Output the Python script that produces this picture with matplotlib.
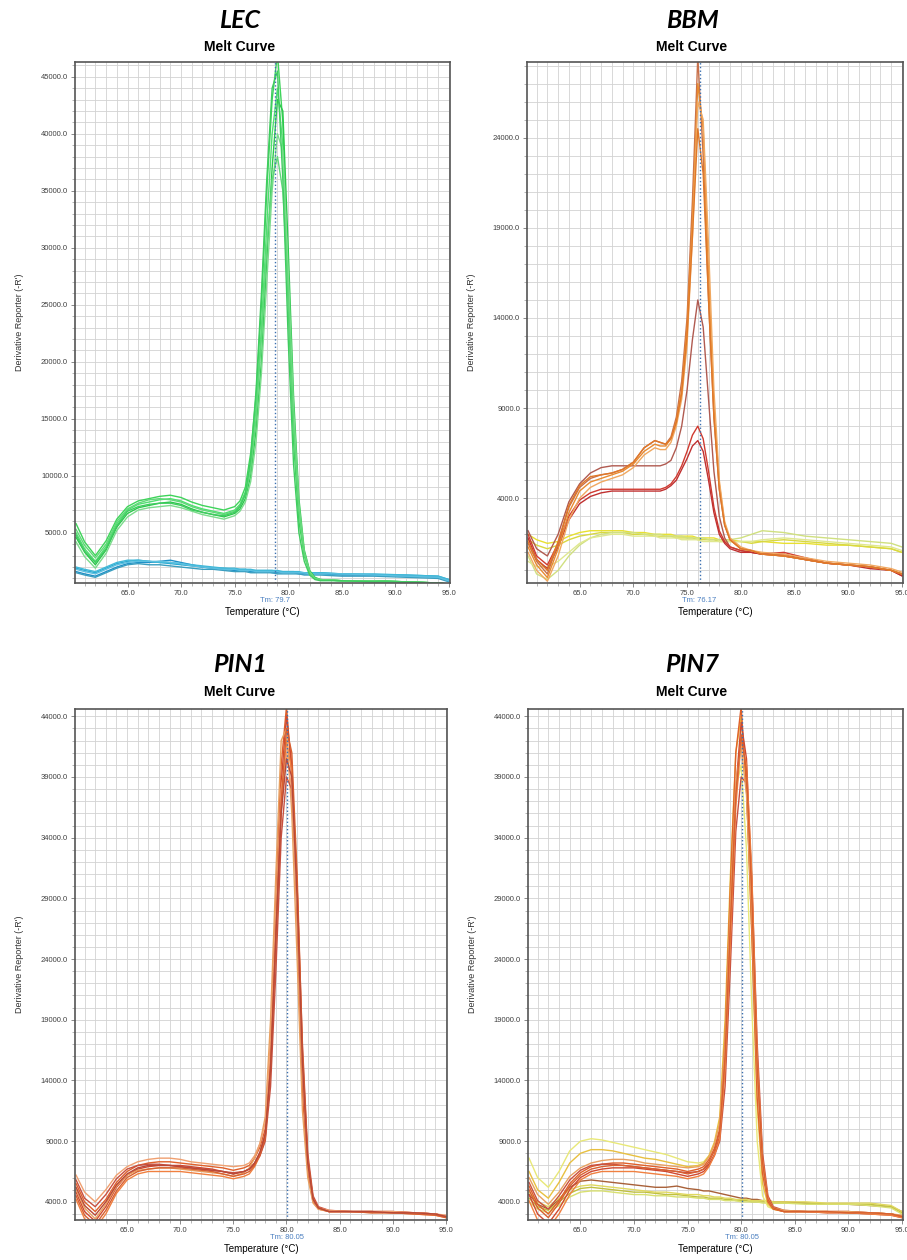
import matplotlib
matplotlib.use("Agg")
import matplotlib.pyplot as plt
from matplotlib.ticker import MultipleLocator, FormatStrFormatter

# values, derivative reporter in thousands

# ---- LEC ----
T_LEC = [60.2, 61, 62, 63, 64, 65, 66, 67, 68, 69, 70, 71, 72, 73, 74, 75, 75.5, 76, 76.5, 77,
         77.5, 78, 78.5, 79, 79.5, 80, 80.5, 81, 81.5, 82, 82.5, 83, 85, 88, 91, 94, 95]
LEC_GREEN = [
    [5.8, 4.2, 3.0, 4.3, 6.2, 7.3, 7.8, 8.0, 8.2, 8.3, 8.1, 7.7, 7.4, 7.2, 7.0, 7.3, 7.8, 9.0, 12.0, 17.0,
     25.0, 35.0, 43.0, 47.0, 41.0, 25.0, 13.0, 6.0, 3.0, 1.5, 1.0, 0.9, 0.8, 0.8, 0.7, 0.6, 0.5],
    [5.0, 3.6, 2.5, 3.8, 5.8, 7.0, 7.5, 7.7, 7.9, 8.0, 7.8, 7.4, 7.1, 6.9, 6.7, 7.0, 7.5, 8.6, 11.0, 16.0,
     23.0, 32.0, 40.0, 44.0, 39.0, 27.0, 15.0, 7.0, 3.2, 1.6, 1.0, 0.9, 0.8, 0.8, 0.7, 0.6, 0.5],
    [4.6, 3.3, 2.2, 3.5, 5.5, 6.7, 7.2, 7.4, 7.6, 7.7, 7.5, 7.1, 6.8, 6.6, 6.4, 6.7, 7.1, 8.0, 10.0, 14.0,
     20.0, 29.0, 37.0, 43.0, 42.0, 30.0, 17.0, 8.0, 3.5, 1.7, 1.1, 0.9, 0.8, 0.8, 0.7, 0.6, 0.5],
    [4.2, 2.9, 1.9, 3.2, 5.2, 6.4, 7.0, 7.2, 7.3, 7.4, 7.2, 6.9, 6.6, 6.4, 6.2, 6.5, 6.9, 7.7, 9.5, 13.0,
     19.0, 27.0, 35.0, 40.0, 38.5, 28.0, 16.0, 7.5, 3.3, 1.6, 1.0, 0.9, 0.8, 0.7, 0.7, 0.6, 0.5],
    [5.3, 3.9, 2.8, 4.0, 6.0, 7.1, 7.6, 7.9, 8.0, 7.9, 7.7, 7.3, 7.0, 6.8, 6.6, 6.9, 7.4, 8.3, 10.5, 15.0,
     22.0, 30.0, 36.0, 38.0, 35.0, 26.0, 14.5, 7.0, 3.2, 1.5, 1.0, 0.9, 0.8, 0.8, 0.7, 0.6, 0.5],
    [4.8, 3.4, 2.4, 3.6, 5.6, 6.9, 7.3, 7.5, 7.6, 7.6, 7.4, 7.0, 6.8, 6.6, 6.5, 6.8, 7.3, 8.4, 11.5, 17.5,
     26.0, 36.0, 44.0, 45.5, 36.0, 22.0, 11.0, 5.0, 2.5, 1.3, 0.9, 0.8, 0.8, 0.7, 0.7, 0.6, 0.5],
]
LEC_BLUE = [
    [1.9, 1.7, 1.5, 1.9, 2.3, 2.5, 2.6, 2.5, 2.4, 2.3, 2.2, 2.1, 2.0, 1.9, 1.9, 1.8, 1.8, 1.8, 1.7, 1.7,
     1.7, 1.7, 1.7, 1.6, 1.6, 1.6, 1.6, 1.5, 1.5, 1.5, 1.5, 1.5, 1.4, 1.3, 1.3, 1.2, 0.9],
    [1.6, 1.4, 1.2, 1.6, 2.0, 2.3, 2.4, 2.4, 2.5, 2.6, 2.4, 2.2, 2.0, 1.9, 1.8, 1.7, 1.7, 1.7, 1.6, 1.6,
     1.6, 1.6, 1.5, 1.5, 1.5, 1.5, 1.5, 1.4, 1.4, 1.4, 1.4, 1.4, 1.3, 1.3, 1.2, 1.1, 0.8],
    [2.0, 1.8, 1.6, 2.0, 2.4, 2.6, 2.6, 2.5, 2.4, 2.4, 2.3, 2.2, 2.1, 2.0, 1.9, 1.9, 1.8, 1.8, 1.8, 1.7,
     1.7, 1.7, 1.7, 1.7, 1.6, 1.6, 1.6, 1.6, 1.5, 1.5, 1.5, 1.5, 1.4, 1.4, 1.3, 1.2, 0.9],
    [1.5, 1.3, 1.1, 1.5, 1.9, 2.2, 2.3, 2.2, 2.2, 2.1, 2.0, 1.9, 1.8, 1.8, 1.7, 1.6, 1.6, 1.6, 1.5, 1.5,
     1.5, 1.5, 1.5, 1.4, 1.4, 1.4, 1.4, 1.4, 1.3, 1.3, 1.3, 1.3, 1.2, 1.2, 1.1, 1.0, 0.7],
    [1.8, 1.6, 1.4, 1.8, 2.2, 2.4, 2.5, 2.5, 2.5, 2.4, 2.3, 2.1, 2.0, 1.9, 1.8, 1.8, 1.7, 1.7, 1.7, 1.6,
     1.6, 1.6, 1.6, 1.6, 1.5, 1.5, 1.5, 1.5, 1.5, 1.4, 1.4, 1.4, 1.4, 1.3, 1.2, 1.1, 0.8],
]

# ---- BBM ----
T_BBM = [60.2, 61, 62, 63, 64, 65, 66, 67, 68, 69, 70, 71, 72, 72.5, 73, 73.5, 74, 74.5, 75, 75.5,
         76, 76.5, 77, 77.5, 78, 78.5, 79, 80, 81, 82, 84, 86, 88, 90, 92, 94, 95]
BBM_ORANGE = [
    [1.5, 0.5, -0.2, 1.5, 3.5, 4.6, 5.1, 5.3, 5.4, 5.6, 6.0, 6.8, 7.2, 7.1, 7.0, 7.4, 8.5, 10.5, 14.0, 20.5,
     28.5, 23.0, 15.0, 8.5, 4.5, 2.5, 1.7, 1.2, 1.1, 0.9, 0.8, 0.6, 0.4, 0.3, 0.2, 0.0, -0.2],
    [1.3, 0.3, -0.4, 1.2, 3.2, 4.4, 4.9, 5.1, 5.3, 5.5, 5.9, 6.6, 7.0, 6.9, 6.9, 7.3, 8.3, 10.0, 13.5, 19.5,
     27.0, 24.5, 16.5, 9.0, 4.8, 2.6, 1.7, 1.2, 1.1, 0.9, 0.8, 0.6, 0.4, 0.3, 0.2, 0.0, -0.2],
    [1.0, 0.0, -0.6, 0.8, 2.8, 4.0, 4.6, 4.9, 5.1, 5.3, 5.7, 6.4, 6.8, 6.7, 6.7, 7.1, 8.0, 9.5, 12.5, 18.5,
     26.0, 25.0, 18.0, 10.0, 5.0, 2.7, 1.8, 1.3, 1.1, 1.0, 0.9, 0.7, 0.5, 0.4, 0.3, 0.1, -0.1],
    [1.6, 0.6, 0.0, 1.6, 3.6, 4.7, 5.2, 5.3, 5.4, 5.6, 6.0, 6.8, 7.2, 7.1, 7.0, 7.3, 8.2, 9.8, 13.0, 18.5,
     24.5, 22.0, 15.0, 8.5, 4.5, 2.5, 1.7, 1.2, 1.1, 0.9, 0.8, 0.6, 0.4, 0.3, 0.2, 0.0, -0.2],
]
BBM_RED = [
    [2.2, 1.2, 0.8, 2.0, 3.8, 4.8, 5.4, 5.7, 5.8, 5.8, 5.8, 5.8, 5.8, 5.8, 5.9, 6.1, 6.8, 8.0, 10.0, 12.8,
     15.0, 13.5, 9.5, 5.5, 3.0, 1.8, 1.3, 1.1, 1.0, 0.9, 0.8, 0.6, 0.4, 0.3, 0.2, 0.0, -0.2],
    [2.0, 0.8, 0.3, 1.5, 3.0, 3.9, 4.3, 4.5, 4.5, 4.5, 4.5, 4.5, 4.5, 4.5, 4.6, 4.8, 5.2, 5.8, 6.6, 7.5,
     8.0, 7.3, 5.5, 3.5, 2.2, 1.6, 1.3, 1.1, 1.0, 0.9, 1.0, 0.7, 0.4, 0.3, 0.2, 0.0, -0.3],
    [1.8, 0.6, 0.1, 1.3, 2.8, 3.7, 4.1, 4.3, 4.4, 4.4, 4.4, 4.4, 4.4, 4.4, 4.5, 4.7, 5.0, 5.6, 6.2, 6.9,
     7.2, 6.6, 5.0, 3.2, 2.0, 1.5, 1.2, 1.0, 1.0, 0.9, 0.9, 0.6, 0.4, 0.3, 0.1, 0.0, -0.3],
]
BBM_YELLOW = [
    [2.0, 1.7, 1.5, 1.6, 1.9, 2.1, 2.2, 2.2, 2.2, 2.2, 2.1, 2.1, 2.0, 2.0, 2.0, 2.0, 1.9, 1.9, 1.9, 1.9,
     1.8, 1.8, 1.8, 1.8, 1.7, 1.7, 1.7, 1.6, 1.6, 1.6, 1.5, 1.5, 1.4, 1.4, 1.3, 1.2, 1.0],
    [1.7, 1.4, 1.2, 1.4, 1.7, 1.9, 2.0, 2.1, 2.1, 2.1, 2.0, 2.0, 1.9, 1.9, 1.9, 1.9, 1.8, 1.8, 1.8, 1.8,
     1.7, 1.7, 1.7, 1.7, 1.6, 1.6, 1.6, 1.6, 1.5, 1.6, 1.7, 1.6, 1.5, 1.4, 1.3, 1.2, 1.0],
    [0.8, -0.2, -0.5, 0.0, 0.8, 1.4, 1.8, 2.0, 2.1, 2.1, 2.1, 2.0, 2.0, 2.0, 1.9, 1.9, 1.9, 1.9, 1.8, 1.8,
     1.8, 1.8, 1.7, 1.7, 1.7, 1.7, 1.7, 1.8, 2.0, 2.2, 2.1, 1.9, 1.8, 1.7, 1.6, 1.5, 1.3],
    [0.5, 0.2, 0.2, 0.5, 1.0, 1.5, 1.8, 1.9, 2.0, 2.0, 1.9, 1.9, 1.9, 1.8, 1.8, 1.8, 1.8, 1.7, 1.7, 1.7,
     1.7, 1.6, 1.6, 1.6, 1.6, 1.6, 1.6, 1.6, 1.6, 1.7, 1.8, 1.7, 1.6, 1.5, 1.4, 1.3, 1.1],
]

# ---- PIN1 / PIN7 ----
T_PIN = [60.2, 61, 62, 63, 64, 65, 66, 67, 68, 69, 70, 71, 72, 73, 74, 75, 76, 76.5, 77, 77.5,
         78, 78.5, 79, 79.5, 80, 80.5, 81, 81.5, 82, 82.5, 83, 84, 86, 88, 90, 92, 94, 95]
PIN1_CURVES = [
    [5.5, 4.0, 3.2, 4.2, 5.6, 6.5, 7.0, 7.2, 7.3, 7.3, 7.2, 7.1, 7.0, 6.9, 6.8, 6.6, 6.8, 7.0, 7.6, 8.5,
     10.0, 17.0, 29.0, 40.0, 44.8, 39.0, 27.0, 13.0, 6.5, 4.0, 3.4, 3.2, 3.2, 3.2, 3.2, 3.1, 3.0, 2.8],
    [4.8, 3.2, 2.4, 3.6, 5.2, 6.2, 6.7, 6.9, 7.0, 7.0, 7.0, 6.9, 6.8, 6.7, 6.5, 6.3, 6.5, 6.7, 7.2, 8.0,
     9.5, 15.5, 27.0, 38.5, 44.0, 40.0, 29.0, 14.5, 7.0, 4.2, 3.5, 3.2, 3.2, 3.2, 3.1, 3.1, 3.0, 2.8],
    [4.2, 2.6, 1.8, 3.0, 4.7, 5.8, 6.3, 6.5, 6.5, 6.5, 6.5, 6.4, 6.3, 6.2, 6.1, 5.9, 6.1, 6.3, 6.9, 7.8,
     9.2, 15.0, 25.0, 36.0, 42.0, 39.5, 30.0, 16.0, 7.5, 4.3, 3.5, 3.2, 3.2, 3.1, 3.1, 3.0, 2.9, 2.7],
    [5.0, 3.5, 2.6, 3.8, 5.3, 6.2, 6.6, 6.7, 6.8, 6.8, 6.7, 6.6, 6.5, 6.4, 6.3, 6.1, 6.4, 6.8, 7.6, 8.8,
     11.0, 19.0, 31.0, 42.0, 43.0, 36.0, 24.0, 11.5, 6.0, 3.9, 3.4, 3.2, 3.2, 3.2, 3.1, 3.1, 3.0, 2.8],
    [5.8, 4.3, 3.6, 4.6, 5.9, 6.7, 7.0, 7.1, 7.1, 7.0, 6.9, 6.8, 6.7, 6.6, 6.5, 6.4, 6.5, 6.7, 7.1, 7.8,
     9.0, 13.5, 23.0, 34.0, 39.0, 38.0, 30.0, 17.0, 8.0, 4.5, 3.6, 3.3, 3.2, 3.2, 3.2, 3.1, 3.0, 2.8],
    [6.2, 4.8, 4.0, 5.0, 6.2, 6.9, 7.3, 7.5, 7.6, 7.6, 7.5, 7.3, 7.2, 7.1, 7.0, 6.9, 7.0, 7.2, 7.8, 8.8,
     10.5, 17.0, 28.0, 38.0, 41.0, 38.0, 28.0, 15.0, 7.0, 4.2, 3.5, 3.3, 3.2, 3.2, 3.2, 3.1, 3.0, 2.9],
    [4.5, 2.9, 2.1, 3.3, 4.9, 6.0, 6.5, 6.7, 6.8, 6.8, 6.8, 6.7, 6.6, 6.5, 6.3, 6.1, 6.3, 6.5, 7.0, 7.9,
     9.3, 15.0, 26.0, 37.0, 43.0, 41.0, 31.0, 16.5, 7.5, 4.3, 3.5, 3.2, 3.2, 3.1, 3.1, 3.0, 2.9, 2.7],
    [5.2, 3.7, 2.9, 4.0, 5.4, 6.3, 6.8, 7.0, 7.0, 7.0, 6.9, 6.8, 6.7, 6.6, 6.5, 6.3, 6.5, 6.7, 7.2, 8.1,
     9.6, 15.0, 26.0, 36.0, 40.5, 39.0, 29.0, 15.5, 7.2, 4.2, 3.5, 3.2, 3.2, 3.2, 3.1, 3.1, 3.0, 2.8],
]
PIN7_CURVES = [
    [5.3, 3.8, 3.0, 4.1, 5.5, 6.4, 6.9, 7.1, 7.2, 7.2, 7.1, 7.0, 6.9, 6.8, 6.7, 6.5, 6.7, 6.9, 7.5, 8.4,
     10.0, 17.5, 30.0, 41.0, 44.8, 38.0, 26.0, 12.5, 6.3, 4.0, 3.4, 3.2, 3.2, 3.2, 3.2, 3.1, 3.0, 2.8],
    [4.6, 3.0, 2.2, 3.4, 5.0, 6.0, 6.5, 6.7, 6.8, 6.8, 6.8, 6.7, 6.6, 6.5, 6.3, 6.1, 6.3, 6.5, 7.0, 7.9,
     9.4, 15.5, 27.0, 38.0, 43.5, 40.5, 30.0, 15.0, 7.2, 4.2, 3.5, 3.2, 3.2, 3.1, 3.1, 3.0, 2.9, 2.7],
    [5.6, 4.1, 3.4, 4.5, 5.8, 6.6, 7.0, 7.1, 7.1, 7.0, 6.9, 6.8, 6.7, 6.6, 6.5, 6.4, 6.5, 6.7, 7.1, 7.8,
     9.0, 13.5, 23.5, 34.5, 39.0, 38.5, 30.5, 17.0, 8.0, 4.5, 3.6, 3.3, 3.2, 3.2, 3.2, 3.1, 3.0, 2.8],
    [4.1, 2.5, 1.8, 3.0, 4.6, 5.8, 6.3, 6.5, 6.5, 6.5, 6.5, 6.4, 6.3, 6.2, 6.1, 5.9, 6.1, 6.3, 6.9, 7.8,
     9.2, 15.0, 25.5, 36.5, 42.0, 40.0, 31.0, 16.0, 7.5, 4.3, 3.5, 3.2, 3.2, 3.1, 3.1, 3.0, 2.9, 2.7],
    [6.0, 4.6, 3.8, 4.8, 6.1, 6.8, 7.2, 7.4, 7.5, 7.5, 7.4, 7.2, 7.1, 7.0, 6.9, 6.8, 6.9, 7.1, 7.7, 8.7,
     10.5, 17.0, 28.5, 38.5, 41.5, 37.5, 27.5, 14.5, 7.0, 4.2, 3.5, 3.3, 3.2, 3.2, 3.2, 3.1, 3.0, 2.9],
    [5.0, 3.5, 2.7, 3.9, 5.3, 6.2, 6.7, 6.9, 7.0, 7.0, 6.9, 6.8, 6.7, 6.6, 6.5, 6.3, 6.5, 6.7, 7.3, 8.2,
     9.8, 16.0, 27.0, 37.5, 42.5, 39.5, 29.0, 15.0, 7.2, 4.2, 3.5, 3.2, 3.2, 3.2, 3.1, 3.1, 3.0, 2.8],
]
PIN7_YELLOW_HIGH = [
    [7.6, 6.0, 5.2, 6.5, 8.2, 9.0, 9.2, 9.1, 8.9, 8.7, 8.5, 8.3, 8.1, 7.9, 7.6, 7.3, 7.2, 7.3, 7.8, 8.8,
     10.5, 17.0, 29.0, 38.0, 40.0, 33.0, 20.0, 9.0, 4.5, 3.6, 3.4, 3.2, 3.2, 3.2, 3.1, 3.1, 3.0, 2.8],
    [6.5, 5.0, 4.3, 5.6, 7.2, 8.0, 8.3, 8.3, 8.2, 8.0, 7.8, 7.6, 7.5, 7.3, 7.1, 6.9, 7.0, 7.2, 7.8, 8.9,
     11.0, 19.0, 31.0, 41.0, 44.0, 38.0, 26.0, 12.0, 5.5, 3.8, 3.4, 3.2, 3.2, 3.2, 3.1, 3.1, 3.0, 2.8],
]
PIN7_LOW = [
    [4.6, 3.8, 3.4, 4.2, 5.2, 5.7, 5.8, 5.7, 5.6, 5.5, 5.4, 5.3, 5.2, 5.2, 5.3, 5.1, 5.0, 4.9, 4.9, 4.8,
     4.7, 4.6, 4.5, 4.4, 4.3, 4.3, 4.2, 4.2, 4.1, 4.1, 4.0, 4.0, 3.9, 3.8, 3.8, 3.7, 3.6, 3.2],
    [4.3, 3.6, 3.3, 4.0, 4.7, 5.1, 5.2, 5.1, 5.0, 4.9, 4.8, 4.8, 4.7, 4.6, 4.6, 4.5, 4.4, 4.4, 4.3, 4.3,
     4.3, 4.2, 4.2, 4.1, 4.1, 4.1, 4.0, 4.0, 4.0, 4.0, 3.9, 3.9, 3.9, 3.8, 3.8, 3.8, 3.6, 3.1],
    [4.0, 3.4, 3.1, 3.7, 4.4, 4.8, 4.9, 4.9, 4.8, 4.7, 4.6, 4.6, 4.5, 4.5, 4.4, 4.4, 4.3, 4.3, 4.2, 4.2,
     4.2, 4.1, 4.1, 4.1, 4.0, 4.0, 4.0, 4.0, 3.9, 3.9, 3.9, 3.9, 3.8, 3.8, 3.8, 3.7, 3.5, 3.0],
    [4.8, 4.0, 3.6, 4.3, 5.0, 5.3, 5.4, 5.3, 5.2, 5.1, 5.0, 4.9, 4.8, 4.8, 4.7, 4.6, 4.6, 4.5, 4.5, 4.4,
     4.4, 4.3, 4.3, 4.2, 4.2, 4.2, 4.1, 4.1, 4.1, 4.1, 4.0, 4.0, 4.0, 3.9, 3.9, 3.9, 3.7, 3.2],
]

# colours
GREEN_COLS = ["#3ed45a", "#50e070", "#2cc84c", "#7cdc8c", "#60d878", "#40cc60"]
BLUE_COLS = ["#2aa8d0", "#1e90c8", "#40b8d8", "#3a9ec0", "#5cc0e0"]
ORANGE_COLS = ["#c8704a", "#e88a30", "#f0a860", "#e07828"]
RED_COLS = ["#b05a50", "#d03a30", "#c03030"]
YELLOW_COLS = ["#e8e030", "#d8d840", "#d0e080", "#e0e890"]
PIN1_COLS = ["#e0602a", "#d04830", "#f08040", "#e8a060", "#c85040", "#f0a070", "#d86030", "#b84838"]
PIN7_COLS = ["#e0602a", "#d04830", "#c85040", "#f08040", "#e8a060", "#d86030"]
YHIGH_COLS = ["#e8e878", "#e8c040"]
LOW_COLS = ["#a86038", "#c0c040", "#d8e070", "#e0d860"]

TICK_FONT = dict(fontsize=5.5, family="Liberation Sans", color="#404040")


def draw_panel(ax, temps, groups, ylim, yticks, tm_line, tm_text):
    for curves, colors in groups:
        for vals, c in zip(curves, colors):
            ax.plot(temps, [v * 1000 for v in vals], color=c, lw=1.0)
    ax.set_xlim(60.1, 95.1)
    ax.set_ylim(*ylim)
    ax.xaxis.set_major_locator(MultipleLocator(5))
    ax.xaxis.set_minor_locator(MultipleLocator(1))
    ax.set_yticks(yticks)
    ax.yaxis.set_minor_locator(MultipleLocator(1000))
    ax.xaxis.set_major_formatter(FormatStrFormatter("%.1f"))
    ax.yaxis.set_major_formatter(FormatStrFormatter("%.1f"))
    ax.grid(which="both", color="#d2d2d2", lw=0.6)
    ax.set_axisbelow(True)
    for s in ax.spines.values():
        s.set_color("#555555")
        s.set_linewidth(1.2)
    ax.tick_params(which="major", length=3, width=0.6, color="#777777", pad=2)
    ax.tick_params(which="minor", length=2, width=0.5, color="#999999")
    for lab in ax.get_xticklabels() + ax.get_yticklabels():
        lab.set_fontsize(TICK_FONT["fontsize"])
        lab.set_family(TICK_FONT["family"])
        lab.set_color(TICK_FONT["color"])
    ax.axvline(tm_line, color="#3a6fb0", ls=":", lw=1.0)
    ax.annotate(tm_text, xy=(tm_line, 0), xycoords=("data", "axes fraction"),
                xytext=(0, -10), textcoords="offset points", ha="center", va="top",
                fontsize=5.5, family="Liberation Sans", color="#4a7fc0")
    ax.set_xlabel("Temperature (°C)", fontsize=7, family="Liberation Sans", labelpad=7)
    ax.set_ylabel("Derivative Reporter (-R')", fontsize=6.5, family="Liberation Sans",
                  color="#333333", labelpad=12)


fig = plt.figure(figsize=(9.07, 12.6), dpi=100)

ax1 = fig.add_axes([0.0827, 0.5373, 0.4134, 0.4135])
draw_panel(ax1, T_LEC, [(LEC_BLUE, BLUE_COLS), (LEC_GREEN, GREEN_COLS)],
           (600, 46300), [5000, 10000, 15000, 20000, 25000, 30000, 35000, 40000, 45000],
           78.8, "Tm: 79.7")

ax2 = fig.add_axes([0.5810, 0.5373, 0.4146, 0.4135])
draw_panel(ax2, T_BBM, [(BBM_YELLOW, YELLOW_COLS), (BBM_RED, RED_COLS), (BBM_ORANGE, ORANGE_COLS)],
           (-700, 28200), [4000, 9000, 14000, 19000, 24000],
           76.17, "Tm: 76.17")

pin_ticks = [4000, 9000, 14000, 19000, 24000, 29000, 34000, 39000, 44000]
ax3 = fig.add_axes([0.0827, 0.0317, 0.4101, 0.4056])
draw_panel(ax3, T_PIN, [(PIN1_CURVES, PIN1_COLS)], (2500, 44600), pin_ticks, 80.05, "Tm: 80.05")

ax4 = fig.add_axes([0.5821, 0.0317, 0.4134, 0.4056])
draw_panel(ax4, T_PIN, [(PIN7_LOW, LOW_COLS), (PIN7_YELLOW_HIGH, YHIGH_COLS), (PIN7_CURVES, PIN7_COLS)],
           (2500, 44600), pin_ticks, 80.05, "Tm: 80.05")

# panel titles
titles = [("LEC", 240, 21, 47), ("BBM", 692, 21, 47), ("PIN1", 240, 665, 692), ("PIN7", 692, 665, 692)]
for name, xc, y1, y2 in titles:
    fig.text(xc / 907, 1 - y1 / 1260, name, ha="center", va="center", fontsize=18,
             family="Lato", weight="bold", style="italic")
    fig.text(xc / 907, 1 - y2 / 1260, "Melt Curve", ha="center", va="center", fontsize=10,
             family="Liberation Sans", weight="bold")

plt.savefig("out.png", dpi=100)
